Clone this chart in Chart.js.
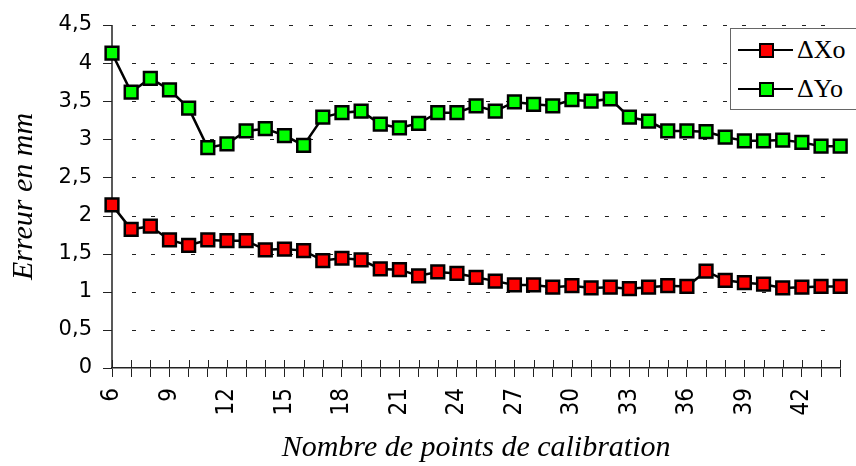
<!DOCTYPE html>
<html>
<head>
<meta charset="utf-8">
<script src="https://cdn.jsdelivr.net/npm/chart.js@4"></script>
<style>
  html, body { margin: 0; padding: 0; background: #fff; overflow: hidden; }
  #wrap { position: relative; width: 856px; height: 466px; overflow: hidden; }
  #legend {
    position: absolute; left: 730px; top: 28px; width: 140px; height: 82px;
    border: 1px solid #666; background: #fff; box-sizing: border-box;
    font-family: "Liberation Serif", "Times New Roman", serif; font-size: 26px; color: #000;
  }
  .row { position: absolute; left: 0; height: 30px; width: 140px; }
  .line { position: absolute; left: 7px; width: 55px; height: 2px; background: #000; top: 14px; }
  .mark { position: absolute; left: 28px; top: 8px; width: 11px; height: 11px; border: 2px solid #000; }
  .txt { position: absolute; left: 66px; top: 0; line-height: 30px; white-space: nowrap; }
</style>
</head>
<body>
<div id="wrap">
  <canvas id="chart" width="880" height="466"></canvas>
  <div id="legend"></div>
</div>
<script>
// nombre de points de calibration
const points = [6, 7, 8, 9, 10, 11, 12, 13, 14, 15, 16, 17, 18, 19, 20, 21, 22, 23, 24, 25,
  26, 27, 28, 29, 30, 31, 32, 33, 34, 35, 36, 37, 38, 39, 40, 41, 42, 43, 44];

const seriesNames = ["\u0394Xo", "\u0394Yo"];
const seriesColors = ["#ff0000", "#00ff00"];

const errX = [2.14, 1.82, 1.86, 1.68, 1.61, 1.68, 1.67, 1.67, 1.55, 1.56, 1.54, 1.41, 1.44, 1.42,
  1.30, 1.29, 1.21, 1.26, 1.24, 1.19, 1.14, 1.09, 1.09, 1.06, 1.08, 1.05, 1.06, 1.04, 1.06,
  1.08, 1.07, 1.27, 1.15, 1.12, 1.10, 1.05, 1.06, 1.07, 1.07];

const errY = [4.13, 3.62, 3.80, 3.65, 3.41, 2.89, 2.94, 3.11, 3.14, 3.05, 2.92, 3.29, 3.35, 3.37,
  3.20, 3.15, 3.21, 3.35, 3.35, 3.44, 3.37, 3.49, 3.46, 3.44, 3.52, 3.50, 3.53, 3.29, 3.24,
  3.11, 3.11, 3.10, 3.03, 2.98, 2.98, 2.99, 2.96, 2.91, 2.91];

const yTicks = [0, 0.5, 1, 1.5, 2, 2.5, 3, 3.5, 4, 4.5];

const axisColor = "#222";

// quadrillage pointillé (traits courts), graduations de l'axe y,
// petits traits qui traversent l'axe x
const axisMarks = {
  id: "axisMarks",
  beforeDatasetsDraw(chart) {
    const { x, y } = chart.scales;
    const ctx = chart.ctx;
    const { left, right, top, bottom } = chart.chartArea;
    ctx.save();
    ctx.strokeStyle = axisColor;
    ctx.lineWidth = 1;
    ctx.beginPath();
    yTicks.forEach((v) => {
      const py = Math.round(y.getPixelForValue(v)) + 0.5;
      if (v > 0) {
        for (let px = left + 19.7; px < right; px += 19.7) {
          ctx.moveTo(Math.round(px), py);
          ctx.lineTo(Math.round(px) + 4, py);
        }
      }
      ctx.moveTo(left - 9, py);
      ctx.lineTo(left, py);
    });
    x.ticks.forEach((t, i) => {
      const px = Math.round(x.getPixelForTick(i)) + 0.5;
      ctx.moveTo(px, bottom - 8);
      ctx.lineTo(px, bottom);
    });
    ctx.stroke();

    ctx.lineWidth = 1.5;
    ctx.beginPath();
    ctx.moveTo(left, top);
    ctx.lineTo(left, bottom);
    ctx.stroke();
    ctx.restore();
  },
};

function serie(label, data, color) {
  return {
    label,
    data,
    borderColor: "#000",
    borderWidth: 2.5,
    tension: 0,
    pointStyle: "rect",
    pointRadius: 9,
    pointHoverRadius: 9,
    pointBackgroundColor: color,
    pointBorderColor: "#000",
    pointBorderWidth: 2.5,
    clip: false,
  };
}

new Chart(document.getElementById("chart").getContext("2d"), {
  type: "line",
  data: {
    labels: points,
    datasets: [
      serie(seriesNames[0], errX, seriesColors[0]),
      serie(seriesNames[1], errY, seriesColors[1]),
    ],
  },
  plugins: [axisMarks],
  options: {
    responsive: false,
    animation: false,
    devicePixelRatio: 1,
    layout: { padding: { top: 25, right: 23, bottom: 0, left: 0 } },
    plugins: {
      legend: { display: false },
      tooltip: { enabled: false },
    },
    scales: {
      x: {
        type: "category",
        offset: false,
        afterFit: (s) => { s.height = 98; },
        border: { display: true, color: axisColor, width: 1.5 },
        grid: { drawOnChartArea: false, drawTicks: true, tickLength: 9, color: axisColor },
        ticks: {
          autoSkip: false,
          minRotation: 90,
          maxRotation: 90,
          padding: 11,
          color: "#000",
          font: { family: "DejaVu Sans Condensed, DejaVu Sans", size: 24 },
          callback: (v, i) => (points[i] % 3 === 0 ? String(points[i]) : ""),
        },
        title: {
          display: true,
          text: "Nombre de points de calibration",
          color: "#000",
          padding: { top: 0, bottom: 0 },
          font: { family: "Liberation Serif", style: "italic", size: 30 },
        },
      },
      y: {
        min: 0,
        max: 4.5,
        afterFit: (s) => { s.width = 112; },
        afterBuildTicks: (s) => { s.ticks = yTicks.map((v) => ({ value: v })); },
        border: { display: false },
        grid: { display: false, drawTicks: true, tickLength: 9 },
        ticks: {
          padding: 11,
          color: "#000",
          font: { family: "DejaVu Sans", size: 21 },
          callback: (v) => String(v).replace(".", ","),
        },
        title: {
          display: true,
          text: "Erreur en mm",
          color: "#000",
          padding: { top: 6, bottom: 0 },
          font: { family: "Liberation Serif", style: "italic", size: 30 },
        },
      },
    },
  },
});

// légende
const legend = document.getElementById("legend");
seriesNames.forEach((name, i) => {
  const row = document.createElement("div");
  row.className = "row";
  row.style.top = (6 + i * 39) + "px";
  row.innerHTML = '<div class="line"></div><div class="mark" style="background:' +
    seriesColors[i] + '"></div><div class="txt">' + name + "</div>";
  legend.appendChild(row);
});
</script>
</body>
</html>
